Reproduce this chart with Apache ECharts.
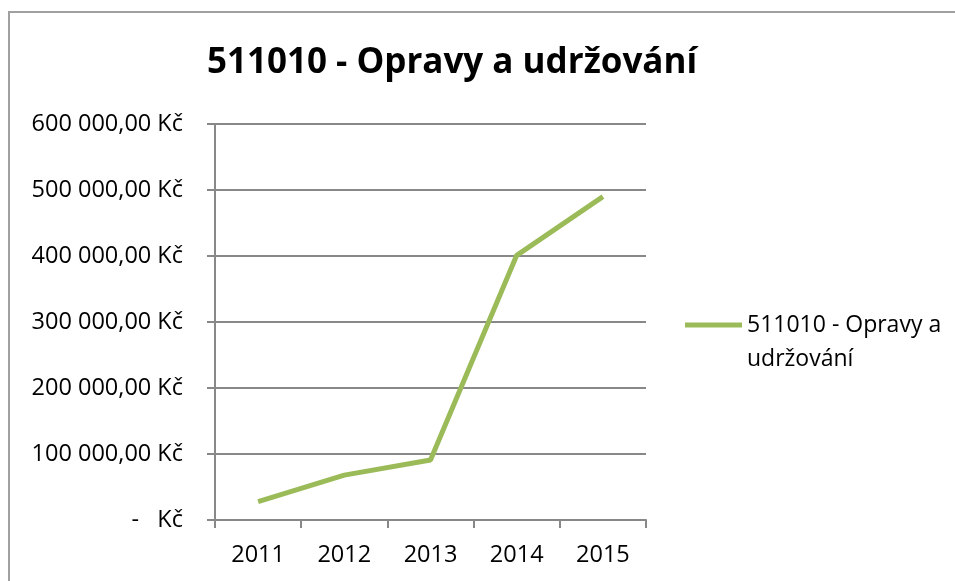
<!DOCTYPE html>
<html><head><meta charset="utf-8">
<script src="https://cdn.jsdelivr.net/npm/echarts@6/dist/echarts.min.js"></script>
<style>html,body{margin:0;padding:0;background:#fff}#c{width:955px;height:581px}</style>
</head><body><div id="c"></div>
<script>
const title = '511010 - Opravy a udržování';
const seriesName = '511010 - Opravy a udržování';
const years = ['2011', '2012', '2013', '2014', '2015'];
const values = [28000, 68000, 91000, 401000, 490000];
const yTicks = [0, 100000, 200000, 300000, 400000, 500000, 600000];

function fmt(v) {
  if (v === 0) return '-   Kč';
  const s = Math.round(v).toString().replace(/\B(?=(\d{3})+(?!\d))/g, ' ');
  return s + ',00 Kč';
}

const FONT = '"Open Sans", sans-serif';
const chart = echarts.init(document.getElementById('c'), null, {renderer: 'canvas'});
chart.setOption({
  backgroundColor: '#fff',
  animation: false,
  title: {
    text: title, left: 447, top: 41, textAlign: 'center',
    textStyle: {fontFamily: FONT, fontSize: 35, fontWeight: 'bold', color: '#000'}
  },
  graphic: [{
    type: 'rect', shape: {x: 9, y: 12, width: 1000, height: 700},
    style: {fill: 'none', stroke: '#a0a0a0', lineWidth: 2}, silent: true, z: -1
  }],
  legend: {
    left: 685, top: 274, orient: 'vertical', itemWidth: 57, itemHeight: 5, padding: 0,
    data: [{name: seriesName, icon: 'rect'}],
    formatter: () => ' \n511010 - Opravy a\nudržování',
    textStyle: {fontFamily: FONT, fontSize: 23, color: '#000', lineHeight: 34}
  },
  grid: {left: 215, top: 124, width: 431, height: 396, containLabel: false},
  xAxis: {
    type: 'category', data: years, boundaryGap: true,
    axisLine: {lineStyle: {color: '#888', width: 2}},
    axisTick: {show: true, length: 8, lineStyle: {color: '#888', width: 2}},
    axisLabel: {fontFamily: FONT, fontSize: 23.5, color: '#000', margin: 23}
  },
  yAxis: {
    type: 'value', min: 0, max: 600000, interval: 100000,
    axisLine: {show: true, lineStyle: {color: '#888', width: 2}},
    axisTick: {show: true, length: 8, lineStyle: {color: '#888', width: 2}},
    splitLine: {lineStyle: {color: '#888', width: 2}},
    axisLabel: {fontFamily: FONT, fontSize: 23.5, color: '#000', margin: 32, formatter: fmt,
      customValues: yTicks}
  },
  series: [{
    name: seriesName, type: 'line', data: values, symbol: 'none',
    lineStyle: {color: '#9BBB59', width: 5}, itemStyle: {color: '#9BBB59'}
  }]
});
</script></body></html>
